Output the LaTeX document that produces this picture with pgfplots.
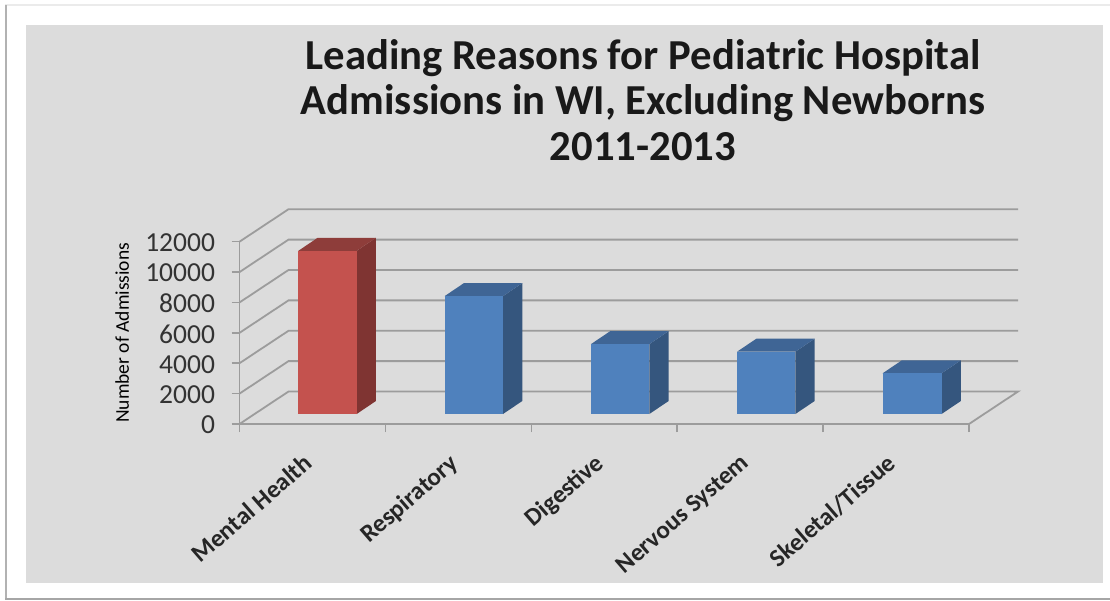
\documentclass[border=0pt]{standalone}
\usepackage{fontspec}
\setmainfont{Carlito}
\usepackage{pgfplots}
\pgfplotsset{compat=1.18}
\definecolor{panel}{HTML}{DCDCDC}
\definecolor{gridc}{HTML}{9C9C9C}
\definecolor{redf}{HTML}{C4524E}
\definecolor{reds}{HTML}{7F3432}
\definecolor{redt}{HTML}{8E3D3A}
\definecolor{bluf}{HTML}{4F81BD}
\definecolor{blus}{HTML}{35567E}
\definecolor{blut}{HTML}{3F6595}
\begin{document}
\begin{tikzpicture}[x=1pt,y=1pt]
% page, frame and grey panel (1pt = 1px of the reference)
\fill[white] (0,0) rectangle (1110,600);
\fill[black!8] (5,594) rectangle (1110,596);
\fill[black!30] (5,2) rectangle (7,595);
\fill[black!35] (5,0) rectangle (1110,2);
\fill[panel] (25.5,17.5) rectangle (1103,575);
\begin{axis}[
  at={(239.5pt,176pt)},
  scale only axis,
  width=729.5pt,
  height=182.3pt,
  xmin=0,xmax=5,
  ymin=0,ymax=12000,
  clip=false,
  axis lines=left,
  axis line style={gridc,line width=1.8pt,-},
  tick style={gridc,line width=1.5pt},
  tick align=outside,
  major tick length=8pt,
  xtick={0,1,2,3,4,5},
  xticklabels={Mental Health,Respiratory,Digestive,Nervous System,Skeletal/Tissue},
  x tick label as interval,
  x tick label style={rotate=41,anchor=north east,font=\fontsize{25}{29}\selectfont\bfseries,text=black!85,xshift=-18pt,yshift=-5pt},
  ytick={0,2000,4000,6000,8000,10000,12000},
  scaled y ticks=false,
  /pgf/number format/1000 sep={},
  /pgf/number format/assume math mode=true,
  y tick label style={font=\fontsize{27.5}{31}\selectfont,text=black!80,xshift=-13pt,yshift=-1pt},
  ylabel={Number of Admissions},
  ylabel style={font=\fontsize{19.5}{23}\selectfont,text=black,at={(-0.1610,0.5)},anchor=center},
  title={Leading Reasons for Pediatric Hospital\\Admissions in WI, Excluding Newborns\\2011-2013},
  title style={at={(0.5531,1.745)},anchor=center,align=center,font=\fontsize{42.7}{45.5}\selectfont\bfseries,text=black!90},
]
% side and back walls
\addplot[gridc,line width=1.8pt] coordinates {(0,0)(0.336,2138)(5.336,2138)(5,0)};
\addplot[gridc,line width=1.8pt] coordinates {(0,2000)(0.336,4138)(5.336,4138)};
\addplot[gridc,line width=1.8pt] coordinates {(0,4000)(0.336,6138)(5.336,6138)};
\addplot[gridc,line width=1.8pt] coordinates {(0,6000)(0.336,8138)(5.336,8138)};
\addplot[gridc,line width=1.8pt] coordinates {(0,8000)(0.336,10138)(5.336,10138)};
\addplot[gridc,line width=1.8pt] coordinates {(0,10000)(0.336,12138)(5.336,12138)};
\addplot[gridc,line width=1.8pt] coordinates {(0,12000)(0.336,14138)(5.336,14138)};
% Mental Health, value 10740
\addplot[draw=none,fill=reds] coordinates {(0.803,658)(0.803,11398)(0.935,12253)(0.935,1513)};
\addplot[draw=none,fill=redt] coordinates {(0.403,11398)(0.803,11398)(0.935,12253)(0.535,12253)};
\addplot[draw=none,fill=redf] coordinates {(0.403,658)(0.803,658)(0.803,11398)(0.403,11398)};
% Respiratory, value 7760
\addplot[draw=none,fill=blus] coordinates {(1.806,658)(1.806,8418)(1.938,9273)(1.938,1513)};
\addplot[draw=none,fill=blut] coordinates {(1.406,8418)(1.806,8418)(1.938,9273)(1.538,9273)};
\addplot[draw=none,fill=bluf] coordinates {(1.406,658)(1.806,658)(1.806,8418)(1.406,8418)};
% Digestive, value 4600
\addplot[draw=none,fill=blus] coordinates {(2.809,658)(2.809,5258)(2.941,6113)(2.941,1513)};
\addplot[draw=none,fill=blut] coordinates {(2.409,5258)(2.809,5258)(2.941,6113)(2.541,6113)};
\addplot[draw=none,fill=bluf] coordinates {(2.409,658)(2.809,658)(2.809,5258)(2.409,5258)};
% Nervous System, value 4100
\addplot[draw=none,fill=blus] coordinates {(3.810,658)(3.810,4758)(3.942,5613)(3.942,1513)};
\addplot[draw=none,fill=blut] coordinates {(3.410,4758)(3.810,4758)(3.942,5613)(3.542,5613)};
\addplot[draw=none,fill=bluf] coordinates {(3.410,658)(3.810,658)(3.810,4758)(3.410,4758)};
% Skeletal/Tissue, value 2680
\addplot[draw=none,fill=blus] coordinates {(4.812,658)(4.812,3338)(4.944,4193)(4.944,1513)};
\addplot[draw=none,fill=blut] coordinates {(4.408,3338)(4.812,3338)(4.944,4193)(4.540,4193)};
\addplot[draw=none,fill=bluf] coordinates {(4.408,658)(4.812,658)(4.812,3338)(4.408,3338)};
\end{axis}
\end{tikzpicture}
\end{document}
